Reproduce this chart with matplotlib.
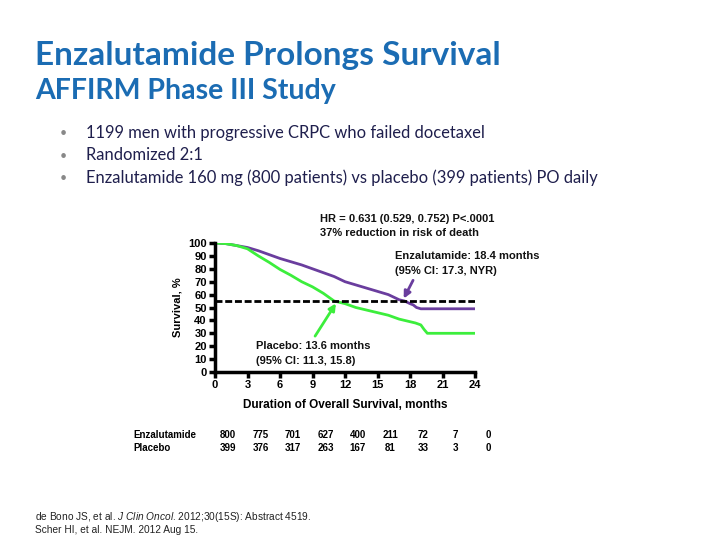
import matplotlib
matplotlib.use('Agg')
import matplotlib.pyplot as plt
import matplotlib.transforms as mtransforms

plt.rcParams['mathtext.fontset'] = 'custom'
plt.rcParams['mathtext.it'] = 'Liberation Sans:italic'
plt.rcParams['mathtext.rm'] = 'Liberation Sans'

# Kaplan-Meier curves (months, % surviving)
enza_t = [0, 1, 2, 3, 4, 5, 6, 7, 8, 9, 10, 11, 12, 13, 14, 15, 16, 16.5, 17, 17.5, 18, 18.3, 18.6, 19, 24]
enza_s = [100, 99.5, 98, 96.5, 94, 91, 88, 85.5, 83, 80, 77, 74, 70, 67.5, 65, 62.5, 60, 58, 56, 55, 53, 52, 50, 49, 49]

plac_t = [0, 1, 2, 3, 4, 5, 6, 7, 8, 9, 10, 11, 12, 13, 14, 15, 16, 17, 18, 18.5, 19, 19.3, 19.6, 24]
plac_s = [100, 99.5, 98, 95.5, 90, 85, 79.5, 75, 70, 66, 61, 55, 53, 50, 48, 46, 44, 41, 39, 38, 36.5, 33, 30, 30]

median_level = 55

xticks = [0, 3, 6, 9, 12, 15, 18, 21, 24]
yticks = [0, 10, 20, 30, 40, 50, 60, 70, 80, 90, 100]

# patients at risk
risk_enza = [800, 775, 701, 627, 400, 211, 72, 7, 0]
risk_plac = [399, 376, 317, 263, 167, 81, 33, 3, 0]

bullets = ['1199 men with progressive CRPC who failed docetaxel',
           'Randomized 2:1',
           'Enzalutamide 160 mg (800 patients) vs placebo (399 patients) PO daily']

purple = '#6a3d9e'
green = '#3cee3c'
blue = '#1b6cb3'
navy = '#1f1f4d'
arial = 'Liberation Sans'

fig = plt.figure(figsize=(7.2, 5.4), dpi=100)
fig.patch.set_facecolor('white')

# slide heading
fig.text(35/720, 1 - 55/540, 'Enzalutamide Prolongs Survival', fontsize=24, fontweight='bold',
         color=blue, family='Lato', va='center', ha='left')
fig.text(35/720, 1 - 91/540, 'AFFIRM Phase III Study', fontsize=20.5, fontweight='bold',
         color=blue, family='Lato', va='center', ha='left')
for i, b in enumerate(bullets):
    y = 1 - (133 + 22.5*i)/540
    fig.text(60/720, y, '•', fontsize=9, color='#888888', va='center', family='Lato')
    fig.text(86/720, y, b, fontsize=11.9, color=navy, va='center', family='Lato')

ax = fig.add_axes([215/720, 1 - 372/540, 260/720, 129/540])
ax.plot(enza_t, enza_s, color=purple, lw=2)
ax.plot(plac_t, plac_s, color=green, lw=2)
ax.plot([0, 24], [median_level, median_level], color='black', lw=2, ls=(0, (2.5, 1)))

ax.set_xlim(0, 24)
ax.set_ylim(0, 100)
ax.set_xticks(xticks)
ax.set_yticks(yticks)
for s in ['top', 'right']:
    ax.spines[s].set_visible(False)
for s in ['left', 'bottom']:
    ax.spines[s].set_linewidth(2.5)
ax.tick_params(width=2.5, length=4, labelsize=8, pad=2)
for lbl in ax.get_xticklabels() + ax.get_yticklabels():
    lbl.set_fontweight('bold')
    lbl.set_family(arial)
ax.set_ylabel('Survival, %', fontsize=8, fontweight='bold', family=arial, labelpad=4)
ax.set_xlabel('Duration of Overall Survival, months', fontsize=8.5, fontweight='bold',
              family=arial, labelpad=6)

tk = dict(fontsize=8, fontweight='bold', family=arial, color='#111111', va='center')
fig.text(320/720, 1 - 219/540, 'HR = 0.631 (0.529, 0.752) P<.0001', **tk)
fig.text(320/720, 1 - 233/540, '37% reduction in risk of death', **tk)
fig.text(395/720, 1 - 256/540, 'Enzalutamide: 18.4 months', **tk)
fig.text(395/720, 1 - 271/540, '(95% CI: 17.3, NYR)', **tk)
fig.text(256/720, 1 - 346/540, 'Placebo: 13.6 months', **tk)
fig.text(256/720, 1 - 361/540, '(95% CI: 11.3, 15.8)', **tk)

ax.annotate('', xy=(11.3, median_level), xytext=(9.1, 26),
            arrowprops=dict(arrowstyle='-|>', color=green, lw=2, mutation_scale=10))
ax.annotate('', xy=(17.3, median_level), xytext=(18.4, 73),
            arrowprops=dict(arrowstyle='-|>', color=purple, lw=2, mutation_scale=10))

# numbers at risk table
trans = mtransforms.blended_transform_factory(ax.transData, fig.transFigure)
rk = dict(fontsize=7, fontweight='bold', family=arial, va='center', ha='center')
fig.text(133/720, 1 - 435/540, 'Enzalutamide', ha='left', va='center', fontsize=7,
         fontweight='bold', family=arial)
fig.text(133/720, 1 - 448/540, 'Placebo', ha='left', va='center', fontsize=7,
         fontweight='bold', family=arial)
for t, a, b in zip(xticks, risk_enza, risk_plac):
    ax.text(t + 1.2, 1 - 435/540, str(a), transform=trans, **rk)
    ax.text(t + 1.2, 1 - 448/540, str(b), transform=trans, **rk)

# references
ref = dict(fontsize=7.3, family=arial, ha='left', va='center', color='#222222')
fig.text(35/720, 1 - 517/540, 'de Bono JS, et al. $\\it{J\\ Clin\\ Oncol}$. 2012;30(15S): Abstract 4519.', **ref)
fig.text(35/720, 1 - 530/540, 'Scher HI, et al. NEJM. 2012 Aug 15.', **ref)

fig.savefig('out.png', dpi=100)
